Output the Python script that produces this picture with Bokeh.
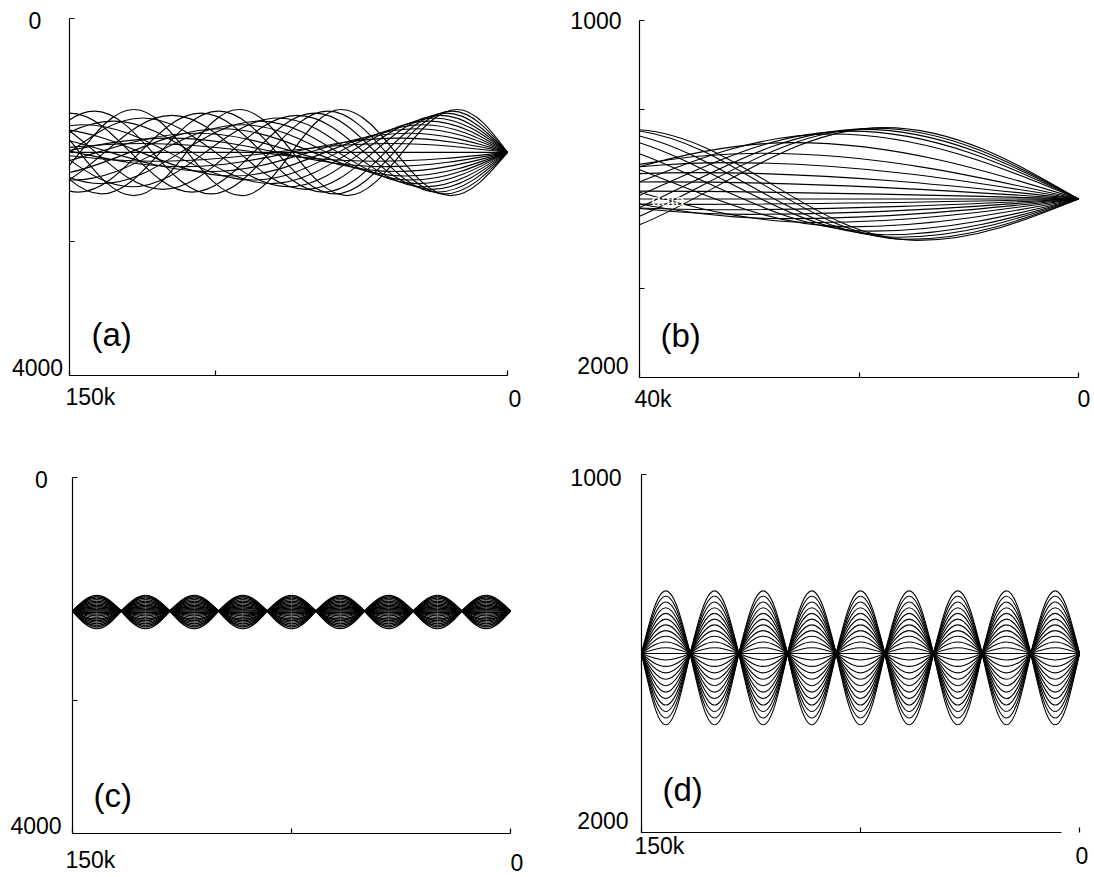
import numpy as np
from bokeh.plotting import figure
from bokeh.layouts import column, row
from bokeh.models import FixedTicker, Range1d, Label, ColumnDataSource, LinearAxis
from bokeh.embed import file_html
from bokeh.resources import INLINE

FONT = "Liberation Sans"

# ---------------- data ----------------
SOURCE_X = 0.0
SOURCE_DEPTH = 1500.0

# panel (a): ray fan over 0-150 km; turning-point ranges (km) and turning depths (m)
a_up_turn_x = [[40, 120, 200], [37, 111, 185], [34, 102, 170], [31, 94, 157],
               [29, 87, 145, 203], [27, 81, 135, 189], [25, 75, 125, 175],
               [23, 69, 115, 161], [21, 63, 105, 147, 189], [19, 59, 99, 139, 179],
               [17.2, 55, 92, 128, 165]]
a_up_top = [1400, 1340, 1285, 1235, 1190, 1150, 1115, 1085, 1060, 1038, 1020]
a_up_bottom = [1600, 1660, 1715, 1765, 1810, 1850, 1885, 1915, 1945, 1965, 1985]
a_dn_turn_x = [[45, 125, 205], [42, 116, 190], [38.5, 106.5, 174.5], [35, 98, 161],
               [33, 91, 149, 207], [31, 85, 139, 193], [28.5, 78.5, 128.5, 178.5],
               [26, 72, 118, 164], [24, 66, 108, 150], [21.5, 61.5, 101.5, 141.5, 181.5],
               [19.5, 57, 91, 128, 165]]
a_dn_top = a_up_top
a_dn_bottom = a_up_bottom
a_range_km = 150

# panel (b): 0-40 km close-up, [first turn x (km), depth, second turn x (km), depth]
b_up_rays = [[41, 1478, 96, 1515], [38, 1452, 90, 1530], [35, 1426, 84, 1545],
             [32, 1398, 78, 1560], [29, 1372, 72, 1575], [26, 1342, 66, 1590],
             [22.5, 1318, 59, 1605], [20.8, 1310, 55, 1612], [19.6, 1305, 52, 1618],
             [18.6, 1302, 50, 1622], [17.7, 1300, 48, 1625]]
b_dn_rays = [[36, 1515, 84, 1480], [33, 1530, 78, 1450], [30, 1543, 72, 1420],
             [27, 1555, 66, 1390], [24, 1566, 60, 1360], [21, 1578, 53, 1330],
             [18.8, 1590, 49, 1318], [17.5, 1600, 46, 1312], [16.5, 1607, 44, 1308],
             [15.5, 1613, 42, 1305], [14.7, 1616, 41, 1305]]
b_range_km = 40

# panels (c) and (d): focusing rays; node and turning ranges (km), amplitudes (m)
cd_nodes = [0, 16.67, 33.33, 50, 66.67, 83.33, 100, 116.67, 133.33, 150]
cd_turns = [8.33, 25, 41.67, 58.33, 75, 91.67, 108.33, 125, 141.67]
cd_up_amp = [16, 32, 48, 64, 80, 96, 112, 128, 144, 160, 175]
cd_down_amp = [18, 36, 54, 72, 90, 108, 126, 144, 162, 180, 199]
cd_range_km = 150

# axis tick values and their texts
a_xticks, a_xtext = [150000, 100000, 0], ["150k", "", "0"]
a_yticks, a_ytext = [0, 2500, 4000], ["0", "", "4000"]
b_xticks, b_xtext = [40000, 20000, 0], ["40k", "", "0"]
b_yticks, b_ytext = [1000, 1250, 1750, 2000], ["1000", "", "", "2000"]
c_xticks, c_xtext = [150000, 75000, 0], ["150k", "", "0"]
c_yticks, c_ytext = [0, 2500, 4000], ["0", "", "4000"]
d_xticks, d_xtext = [150000, 75000, 0], ["150k", "", "0"]
d_yticks, d_ytext = [1000, 2000], ["1000", "2000"]

# ---------------- geometry helpers ----------------
KEYS = ("x0", "y0", "x1", "y1", "cx0", "cy0", "cx1", "cy1")


def segments(points):
    out = {k: [] for k in KEYS}
    for (x0, y0, k0), (x1, y1, k1) in zip(points[:-1], points[1:]):
        dx, dy = x1 - x0, y1 - y0
        if k0 == "n" and k1 == "t":
            c0 = (x0 + 0.3261 * dx, y0 + 0.5123 * dy); c1 = (x0 + 0.6381 * dx, y1)
        elif k0 == "t" and k1 == "n":
            c0 = (x0 + 0.3619 * dx, y0); c1 = (x0 + 0.6739 * dx, y0 + 0.4877 * dy)
        elif k0 == "t" and k1 == "t":
            c0 = (x0 + 0.3642 * dx, y0); c1 = (x1 - 0.3642 * dx, y1)
        else:
            c0 = (x0 + dx / 3, y0 + dy / 3); c1 = (x0 + 2 * dx / 3, y0 + 2 * dy / 3)
        for k, v in zip(KEYS, (x0, y0, x1, y1, c0[0], c0[1], c1[0], c1[1])):
            out[k].append(v)
    return out


def merge(dicts):
    out = {k: [] for k in KEYS}
    for d in dicts:
        for k in out:
            out[k].extend(d[k])
    return out


def _bez(P, t):
    u = 1 - t
    return tuple(u**3 * P[0][i] + 3 * u * u * t * P[1][i] + 3 * u * t * t * P[2][i] + t**3 * P[3][i]
                 for i in range(2))


def _lerp(a, b, t):
    return (a[0] + (b[0] - a[0]) * t, a[1] + (b[1] - a[1]) * t)


def clip_x(segs, xmax):
    """cut every curve at the far edge of the panel (rays run towards larger range)"""
    out = {k: [] for k in KEYS}
    for i in range(len(segs["x0"])):
        P = [(segs["x0"][i], segs["y0"][i]), (segs["cx0"][i], segs["cy0"][i]),
             (segs["cx1"][i], segs["cy1"][i]), (segs["x1"][i], segs["y1"][i])]
        if P[0][0] >= xmax - 1e-6:
            continue
        if P[3][0] > xmax:
            lo, hi = 0.0, 1.0
            for _ in range(60):
                mid = 0.5 * (lo + hi)
                if _bez(P, mid)[0] < xmax:
                    lo = mid
                else:
                    hi = mid
            t = lo
            p01, p12, p23 = _lerp(P[0], P[1], t), _lerp(P[1], P[2], t), _lerp(P[2], P[3], t)
            p012, p123 = _lerp(p01, p12, t), _lerp(p12, p23, t)
            P = [P[0], p01, p012, _lerp(p012, p123, t)]
        vals = (P[0][0], P[0][1], P[3][0], P[3][1], P[1][0], P[1][1], P[2][0], P[2][1])
        for k, v in zip(KEYS, vals):
            out[k].append(v)
    return out


def src_point():
    return (SOURCE_X, SOURCE_DEPTH, "n")


def flat_ray(end_km):
    return segments([src_point(), (end_km * 1000, SOURCE_DEPTH, "n")])


def alt_ray(turn_x, first, second):
    pts = [src_point()]
    for j, xk in enumerate(turn_x):
        pts.append((xk * 1000, first if j % 2 == 0 else second, "t"))
    return segments(pts)


# ---------------- panel factory ----------------
# each panel: figure size and the pixel box (L, R, T, B) that the axes span
class Panel:
    def __init__(self, W, H, L, R, T, B, xl, xr, yt, yb, xticks, yticks, xbounds=None):
        self.L, self.R, self.T, self.B = L, R, T, B
        self.xl, self.xr, self.yt, self.yb = xl, xr, yt, yb
        self.sx = (xr - xl) / (R - L)
        self.sy = (yb - yt) / (B - T)
        p = figure(width=W, height=H,
                   x_range=Range1d(self.px_x(0), self.px_x(W)),
                   y_range=Range1d(self.px_y(H), self.px_y(0)),
                   x_axis_type=None, y_axis_type=None,
                   output_backend="svg", toolbar_location=None,
                   min_border_left=0, min_border_right=0, min_border_top=0, min_border_bottom=0)
        p.outline_line_color = None
        p.background_fill_color = "white"
        p.border_fill_color = "white"
        xa = LinearAxis(fixed_location=yb, bounds=xbounds or (min(xl, xr), max(xl, xr)),
                        ticker=FixedTicker(ticks=xticks))
        ya = LinearAxis(fixed_location=xl, bounds=(min(yt, yb), max(yt, yb)),
                        ticker=FixedTicker(ticks=yticks))
        for ax, ticks in ((xa, xticks), (ya, yticks)):
            ax.axis_line_color = "black"
            ax.axis_line_width = 1.2
            ax.major_tick_line_color = "black"
            ax.major_tick_line_width = 1.2
            ax.major_tick_in = 5
            ax.major_tick_out = 0
            ax.minor_tick_line_color = None
            ax.major_label_text_font_size = "0px"
            ax.major_label_standoff = 0
            ax.major_label_overrides = {t: "" for t in ticks}
        p.add_layout(xa, "below")
        p.add_layout(ya, "left")
        self.p = p

    def px_x(self, px):
        return self.xl + (px - self.L) * self.sx

    def px_y(self, py):
        return self.yt + (py - self.T) * self.sy

    def tick_text(self, xv, yv, text, dx, dy, align):
        # dx, dy: pixel offsets from the tick position (dy positive = downwards)
        if text:
            self.p.add_layout(Label(x=xv + dx * self.sx, y=yv + dy * self.sy, text=text,
                                    text_font=FONT, text_font_size="23px", text_align=align,
                                    text_baseline="middle", text_color="black"))

    def tag(self, px, py, text):
        self.p.add_layout(Label(x=self.px_x(px), y=self.px_y(py), text=text, text_font=FONT,
                                text_font_size="33px", text_align="left",
                                text_baseline="middle", text_color="black"))

    def draw(self, segs, width=1.1):
        self.p.bezier(x0="x0", y0="y0", x1="x1", y1="y1", cx0="cx0", cy0="cy0", cx1="cx1",
                      cy1="cy1", source=ColumnDataSource(segs), line_color="black",
                      line_width=width)


# ---------------- panel (a) ----------------
A = Panel(547, 438, 69, 507, 18, 375, 150000, 0, 0, 4000, a_xticks, a_yticks)
rays_a = [flat_ray(a_range_km)]
for tx, top, bot in zip(a_up_turn_x, a_up_top, a_up_bottom):
    rays_a.append(alt_ray(tx, top, bot))
for tx, top, bot in zip(a_dn_turn_x, a_dn_top, a_dn_bottom):
    rays_a.append(alt_ray(tx, bot, top))
A.draw(clip_x(merge(rays_a), a_range_km * 1000))
A.tag(91, 334, "(a)")
A.tick_text(a_xticks[0], a_yticks[-1], a_xtext[0], -4, 21, "left")
A.tick_text(a_xticks[-1], a_yticks[-1], a_xtext[-1], 1, 23, "left")
A.tick_text(a_xticks[0], a_yticks[0], a_ytext[0], -34.5, 2, "center")
A.tick_text(a_xticks[0], a_yticks[-1], a_ytext[-1], -32, -8, "center")

# ---------------- panel (b) ----------------
Bp = Panel(547, 438, 92, 531, 20, 377, 40000, 0, 1000, 2000, b_xticks, b_yticks)
rays_b = [flat_ray(b_range_km)]
for r in b_up_rays + b_dn_rays:
    rays_b.append(alt_ray([r[0], r[2]], r[1], r[3]))
Bp.draw(clip_x(merge(rays_b), b_range_km * 1000))
Bp.tag(113, 335, "(b)")
Bp.p.add_layout(Label(x=Bp.px_x(104), y=Bp.px_y(200), text="data", text_font=FONT,
                      text_font_size="17px", text_align="left", text_baseline="middle",
                      text_color="white"))
Bp.tick_text(b_xticks[0], b_yticks[-1], b_xtext[0], -5, 21, "left")
Bp.tick_text(b_xticks[-1], b_yticks[-1], b_xtext[-1], -1, 21, "left")
Bp.tick_text(b_xticks[0], b_yticks[0], b_ytext[0], -18, 0, "right")
Bp.tick_text(b_xticks[0], b_yticks[-1], b_ytext[-1], -11, -12, "right")


# ---------------- panels (c) and (d) ----------------
def focus_rays():
    rays = [flat_ray(cd_range_km)]
    for ua, da in zip(cd_up_amp, cd_down_amp):
        for sign in (1, -1):
            pts = [src_point()]
            for j, xt in enumerate(cd_turns):
                up = (j % 2 == 0) if sign == 1 else (j % 2 == 1)
                d = SOURCE_DEPTH - ua if up else SOURCE_DEPTH + da
                pts.append((xt * 1000, d, "t"))
                pts.append((cd_nodes[j + 1] * 1000, SOURCE_DEPTH, "n"))
            rays.append(segments(pts))
    return clip_x(merge(rays), cd_range_km * 1000 + 1)


C = Panel(547, 439, 72, 510, 39, 395, 150000, 0, 0, 4000, c_xticks, c_yticks)
C.draw(focus_rays(), width=1.3)
C.tag(93, 357, "(c)")
C.tick_text(c_xticks[0], c_yticks[-1], c_xtext[0], -7, 26, "left")
C.tick_text(c_xticks[-1], c_yticks[-1], c_xtext[-1], 0, 29, "left")
C.tick_text(c_xticks[0], c_yticks[0], c_ytext[0], -31, 2, "center")
C.tick_text(c_xticks[0], c_yticks[-1], c_ytext[-1], -36.5, -8, "center")

D = Panel(547, 439, 94, 532, 36, 394, 150000, 0, 1000, 2000, d_xticks, d_yticks,
          xbounds=(6000, 150000))
D.draw(focus_rays())
D.tag(115, 351, "(d)")
D.tick_text(d_xticks[0], d_yticks[-1], d_xtext[0], -7, 13, "left")
D.tick_text(d_xticks[-1], d_yticks[-1], d_xtext[-1], -4, 23, "left")
D.tick_text(d_xticks[0], d_yticks[0], d_ytext[0], -20, 3, "right")
D.tick_text(d_xticks[0], d_yticks[-1], d_ytext[-1], -13, -12, "right")

layout = column(row(A.p, Bp.p), row(C.p, D.p))
open("out.html", "w").write(file_html(layout, INLINE))
